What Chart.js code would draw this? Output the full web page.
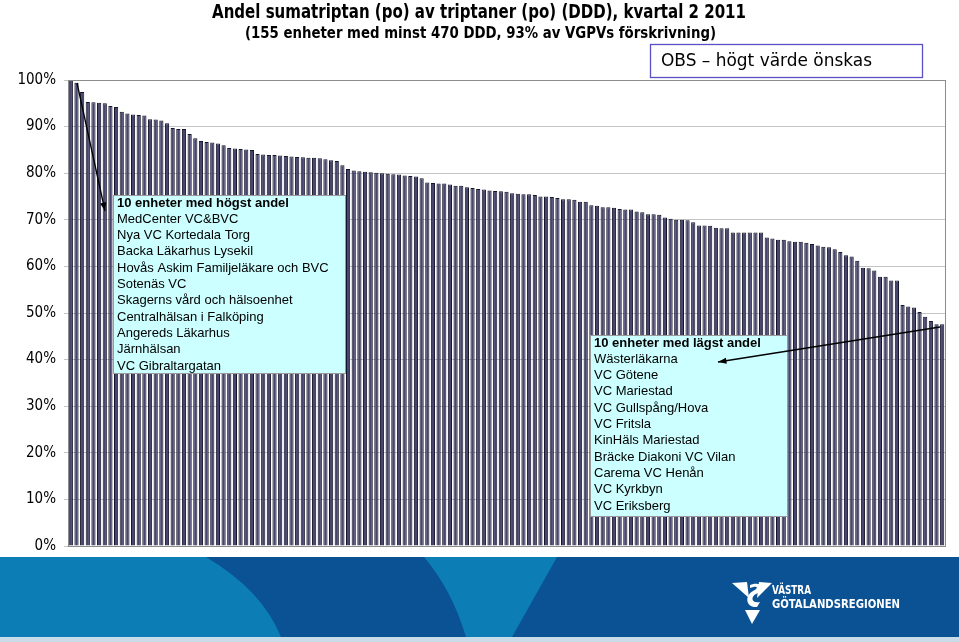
<!DOCTYPE html>
<html>
<head>
<meta charset="utf-8">
<script src="https://cdn.jsdelivr.net/npm/chart.js@4.4.0/dist/chart.umd.min.js"></script>
<style>
  html, body { margin: 0; padding: 0; background: #fff; }
  #wrap { width: 959px; height: 642px; }
</style>
</head>
<body>
<div id="wrap"><canvas id="myChart" width="959" height="642"></canvas></div>
<script>
// andel sumatriptan per enhet, sorted (%)
const shares = [
  100, 99.4, 97.4, 95.3, 95.2, 95.1, 95.0, 94.4, 94.2, 93.2,
  92.8, 92.6, 92.5, 92.4, 91.6, 91.5, 91.3, 90.7, 89.7, 89.5,
  89.5, 88.4, 87.5, 86.9, 86.7, 86.6, 86.4, 86.0, 85.4, 85.3,
  85.2, 85.1, 85.0, 84.1, 84.0, 83.9, 83.9, 83.8, 83.7, 83.6,
  83.5, 83.4, 83.3, 83.3, 83.2, 83.0, 82.8, 82.6, 81.7, 80.9,
  80.6, 80.4, 80.3, 80.2, 80.1, 80.0, 79.9, 79.8, 79.7, 79.5,
  79.4, 79.3, 78.9, 78.0, 77.9, 77.8, 77.8, 77.6, 77.3, 77.3,
  77.0, 76.8, 76.6, 76.5, 76.3, 76.2, 76.1, 76.0, 75.7, 75.6,
  75.5, 75.5, 75.3, 75.0, 75.0, 74.9, 74.7, 74.4, 74.4, 74.3,
  73.9, 73.9, 73.1, 73.0, 72.7, 72.7, 72.6, 72.3, 72.2, 72.2,
  71.8, 71.6, 71.2, 71.2, 71.1, 70.5, 70.2, 70.0, 70.0, 69.9,
  69.5, 68.8, 68.8, 68.7, 68.3, 68.2, 68.2, 67.3, 67.3, 67.3,
  67.3, 67.3, 67.3, 66.2, 66.0, 65.7, 65.7, 65.4, 65.3, 65.3,
  65.1, 64.8, 64.5, 64.2, 64.1, 63.7, 63.1, 62.4, 62.1, 61.2,
  59.7, 59.6, 59.1, 57.8, 57.8, 57.0, 57.0, 51.7, 51.4, 51.2,
  50.2, 49.2, 48.3, 47.6, 47.6
];
const units = shares.map((v, i) => 'Enhet ' + (i + 1));
const yTicks = [0, 10, 20, 30, 40, 50, 60, 70, 80, 90, 100];

const titleText = 'Andel sumatriptan (po) av triptaner (po) (DDD), kvartal 2 2011';
const subtitleText = '(155 enheter med minst 470 DDD, 93% av VGPVs förskrivning)';
const noteText = 'OBS \u2013 högt värde önskas';

const topHeader = '10 enheter med högst andel';
const topUnits = ['MedCenter VC&BVC', 'Nya VC Kortedala Torg', 'Backa Läkarhus Lysekil',
  'Hovås Askim Familjeläkare och BVC', 'Sotenäs VC', 'Skagerns vård och hälsoenhet',
  'Centralhälsan i Falköping', 'Angereds Läkarhus', 'Järnhälsan', 'VC Gibraltargatan'];
const lowHeader = '10 enheter med lägst andel';
const lowUnits = ['Wästerläkarna', 'VC Götene', 'VC Mariestad', 'VC Gullspång/Hova',
  'VC Fritsla', 'KinHäls Mariestad', 'Bräcke Diakoni VC Vilan', 'Carema VC Henån',
  'VC Kyrkbyn', 'VC Eriksberg'];

const narrow = "'Liberation Sans Narrow', 'DejaVu Sans Condensed', 'Liberation Sans', Arial, sans-serif";
const sans = "'Liberation Sans', Arial, sans-serif";

// draw text squeezed to a given width
function fitText(ctx, text, x, y, width, font) {
  ctx.save();
  ctx.font = font;
  const w = ctx.measureText(text).width;
  ctx.translate(x, y);
  ctx.scale(width / w, 1);
  ctx.textAlign = 'left';
  ctx.textBaseline = 'middle';
  ctx.fillText(text, 0, 0);
  ctx.restore();
}

function drawBanner(ctx) {
  const top = 557, bot = 642;
  ctx.save();
  ctx.fillStyle = '#0b5295';
  ctx.fillRect(0, top, 959, bot - top);
  ctx.fillStyle = '#0c7db5';
  ctx.beginPath();
  ctx.moveTo(0, top);
  ctx.lineTo(206, top);
  ctx.quadraticCurveTo(262, 590, 281, 637);
  ctx.lineTo(0, 637);
  ctx.closePath();
  ctx.fill();
  ctx.beginPath();
  ctx.moveTo(424, top);
  ctx.lineTo(557, top);
  ctx.lineTo(512, 637);
  ctx.lineTo(466, 637);
  ctx.quadraticCurveTo(452, 590, 424, top);
  ctx.closePath();
  ctx.fill();
  ctx.fillStyle = '#c9dce8';
  ctx.fillRect(0, 637, 959, 5);

  // logo
  ctx.fillStyle = '#fff';
  ctx.beginPath();
  ctx.moveTo(732, 583);
  ctx.lineTo(747, 582);
  ctx.lineTo(749, 598);
  ctx.closePath();
  ctx.fill();
  ctx.beginPath();
  ctx.moveTo(759, 582);
  ctx.lineTo(772, 583);
  ctx.lineTo(757, 598);
  ctx.closePath();
  ctx.fill();
  ctx.beginPath();
  ctx.moveTo(750, 585);
  ctx.bezierCurveTo(762, 580, 766, 590, 756, 594);
  ctx.bezierCurveTo(750, 597, 752, 604, 760, 602);
  ctx.lineTo(757, 607);
  ctx.bezierCurveTo(746, 608, 744, 596, 753, 591);
  ctx.bezierCurveTo(759, 588, 758, 585, 750, 588);
  ctx.closePath();
  ctx.fill();
  ctx.beginPath();
  ctx.moveTo(745, 610);
  ctx.lineTo(760, 610);
  ctx.lineTo(752, 624);
  ctx.closePath();
  ctx.fill();
  fitText(ctx, 'VÄSTRA', 772, 591, 39, 'bold 12px ' + narrow);
  fitText(ctx, 'GÖTALANDSREGIONEN', 772, 605, 128, 'bold 12px ' + narrow);
  ctx.restore();
}

function drawListBox(ctx, x, y, w, h, header, names) {
  ctx.save();
  ctx.fillStyle = '#ccffff';
  ctx.fillRect(x, y, w, h);
  ctx.strokeStyle = '#9a9a9a';
  ctx.lineWidth = 1;
  ctx.strokeRect(x + 0.5, y + 0.5, w, h);
  ctx.fillStyle = '#000';
  ctx.textBaseline = 'middle';
  ctx.textAlign = 'left';
  ctx.font = 'bold 13px ' + sans;
  ctx.fillText(header, x + 4, y + 8);
  ctx.font = '13px ' + sans;
  names.forEach((n, i) => ctx.fillText(n, x + 4, y + 8 + (i + 1) * 16.3));
  ctx.restore();
}

function drawArrow(ctx, x1, y1, x2, y2) {
  ctx.save();
  ctx.strokeStyle = '#000';
  ctx.fillStyle = '#000';
  ctx.lineWidth = 1.3;
  ctx.beginPath();
  ctx.moveTo(x1, y1);
  ctx.lineTo(x2, y2);
  ctx.stroke();
  const a = Math.atan2(y2 - y1, x2 - x1);
  ctx.beginPath();
  ctx.moveTo(x2, y2);
  ctx.lineTo(x2 - 9 * Math.cos(a - 0.35), y2 - 9 * Math.sin(a - 0.35));
  ctx.lineTo(x2 - 9 * Math.cos(a + 0.35), y2 - 9 * Math.sin(a + 0.35));
  ctx.closePath();
  ctx.fill();
  ctx.restore();
}

const decor = {
  id: 'decor',
  beforeDraw(chart) {
    const ctx = chart.ctx;
    ctx.save();
    ctx.fillStyle = '#fff';
    ctx.fillRect(0, 0, chart.width, chart.height);
    ctx.fillStyle = '#000';
    fitText(ctx, titleText, 212, 13, 534, 'bold 19px ' + narrow);
    fitText(ctx, subtitleText, 245, 34, 471, 'bold 15px ' + narrow);
    ctx.restore();
    drawBanner(ctx);
  },
  afterDatasetsDraw(chart) {
    const ctx = chart.ctx;
    const a = chart.chartArea;
    ctx.save();
    ctx.strokeStyle = '#8c8c8c';
    ctx.lineWidth = 1;
    ctx.strokeRect(Math.round(a.left) + 0.5, Math.round(a.top) + 0.5,
      Math.round(a.right - a.left), Math.round(a.bottom - a.top));
    ctx.restore();

    drawListBox(ctx, 113, 195, 232, 178, topHeader, topUnits);
    drawListBox(ctx, 590, 335, 197, 181, lowHeader, lowUnits);
    drawArrow(ctx, 77, 83, 105, 211);
    drawArrow(ctx, 940, 327, 718, 362);

    ctx.save();
    ctx.fillStyle = '#fff';
    ctx.fillRect(650, 44, 272, 33);
    ctx.strokeStyle = '#5a4fc4';
    ctx.lineWidth = 1.3;
    ctx.strokeRect(650.5, 44.5, 272, 33);
    ctx.fillStyle = '#000';
    fitText(ctx, noteText, 661, 61, 211, '18px ' + narrow);
    ctx.restore();
  }
};

new Chart(document.getElementById('myChart'), {
  type: 'bar',
  data: {
    labels: units,
    datasets: [{
      label: 'Andel sumatriptan',
      data: shares,
      backgroundColor: '#46466e',
      borderColor: '#14142a',
      borderWidth: 1,
      barPercentage: 1,
      categoryPercentage: 0.74
    }]
  },
  options: {
    responsive: false,
    animation: false,
    layout: { padding: { top: 80, right: 14, bottom: 96, left: 0 } },
    plugins: {
      legend: { display: false },
      tooltip: { enabled: false }
    },
    scales: {
      x: { display: false },
      y: {
        min: 0,
        max: 100,
        afterBuildTicks: (scale) => { scale.ticks = yTicks.map(v => ({ value: v })); },
        afterFit: (scale) => { scale.width = 68; },
        border: { display: false },
        grid: { color: '#c4c4c4', tickLength: 4 },
        ticks: {
          color: '#000',
          padding: 8,
          font: { family: narrow, size: 15 },
          callback: (v) => v + '%'
        }
      }
    }
  },
  plugins: [decor]
});
</script>
</body>
</html>
